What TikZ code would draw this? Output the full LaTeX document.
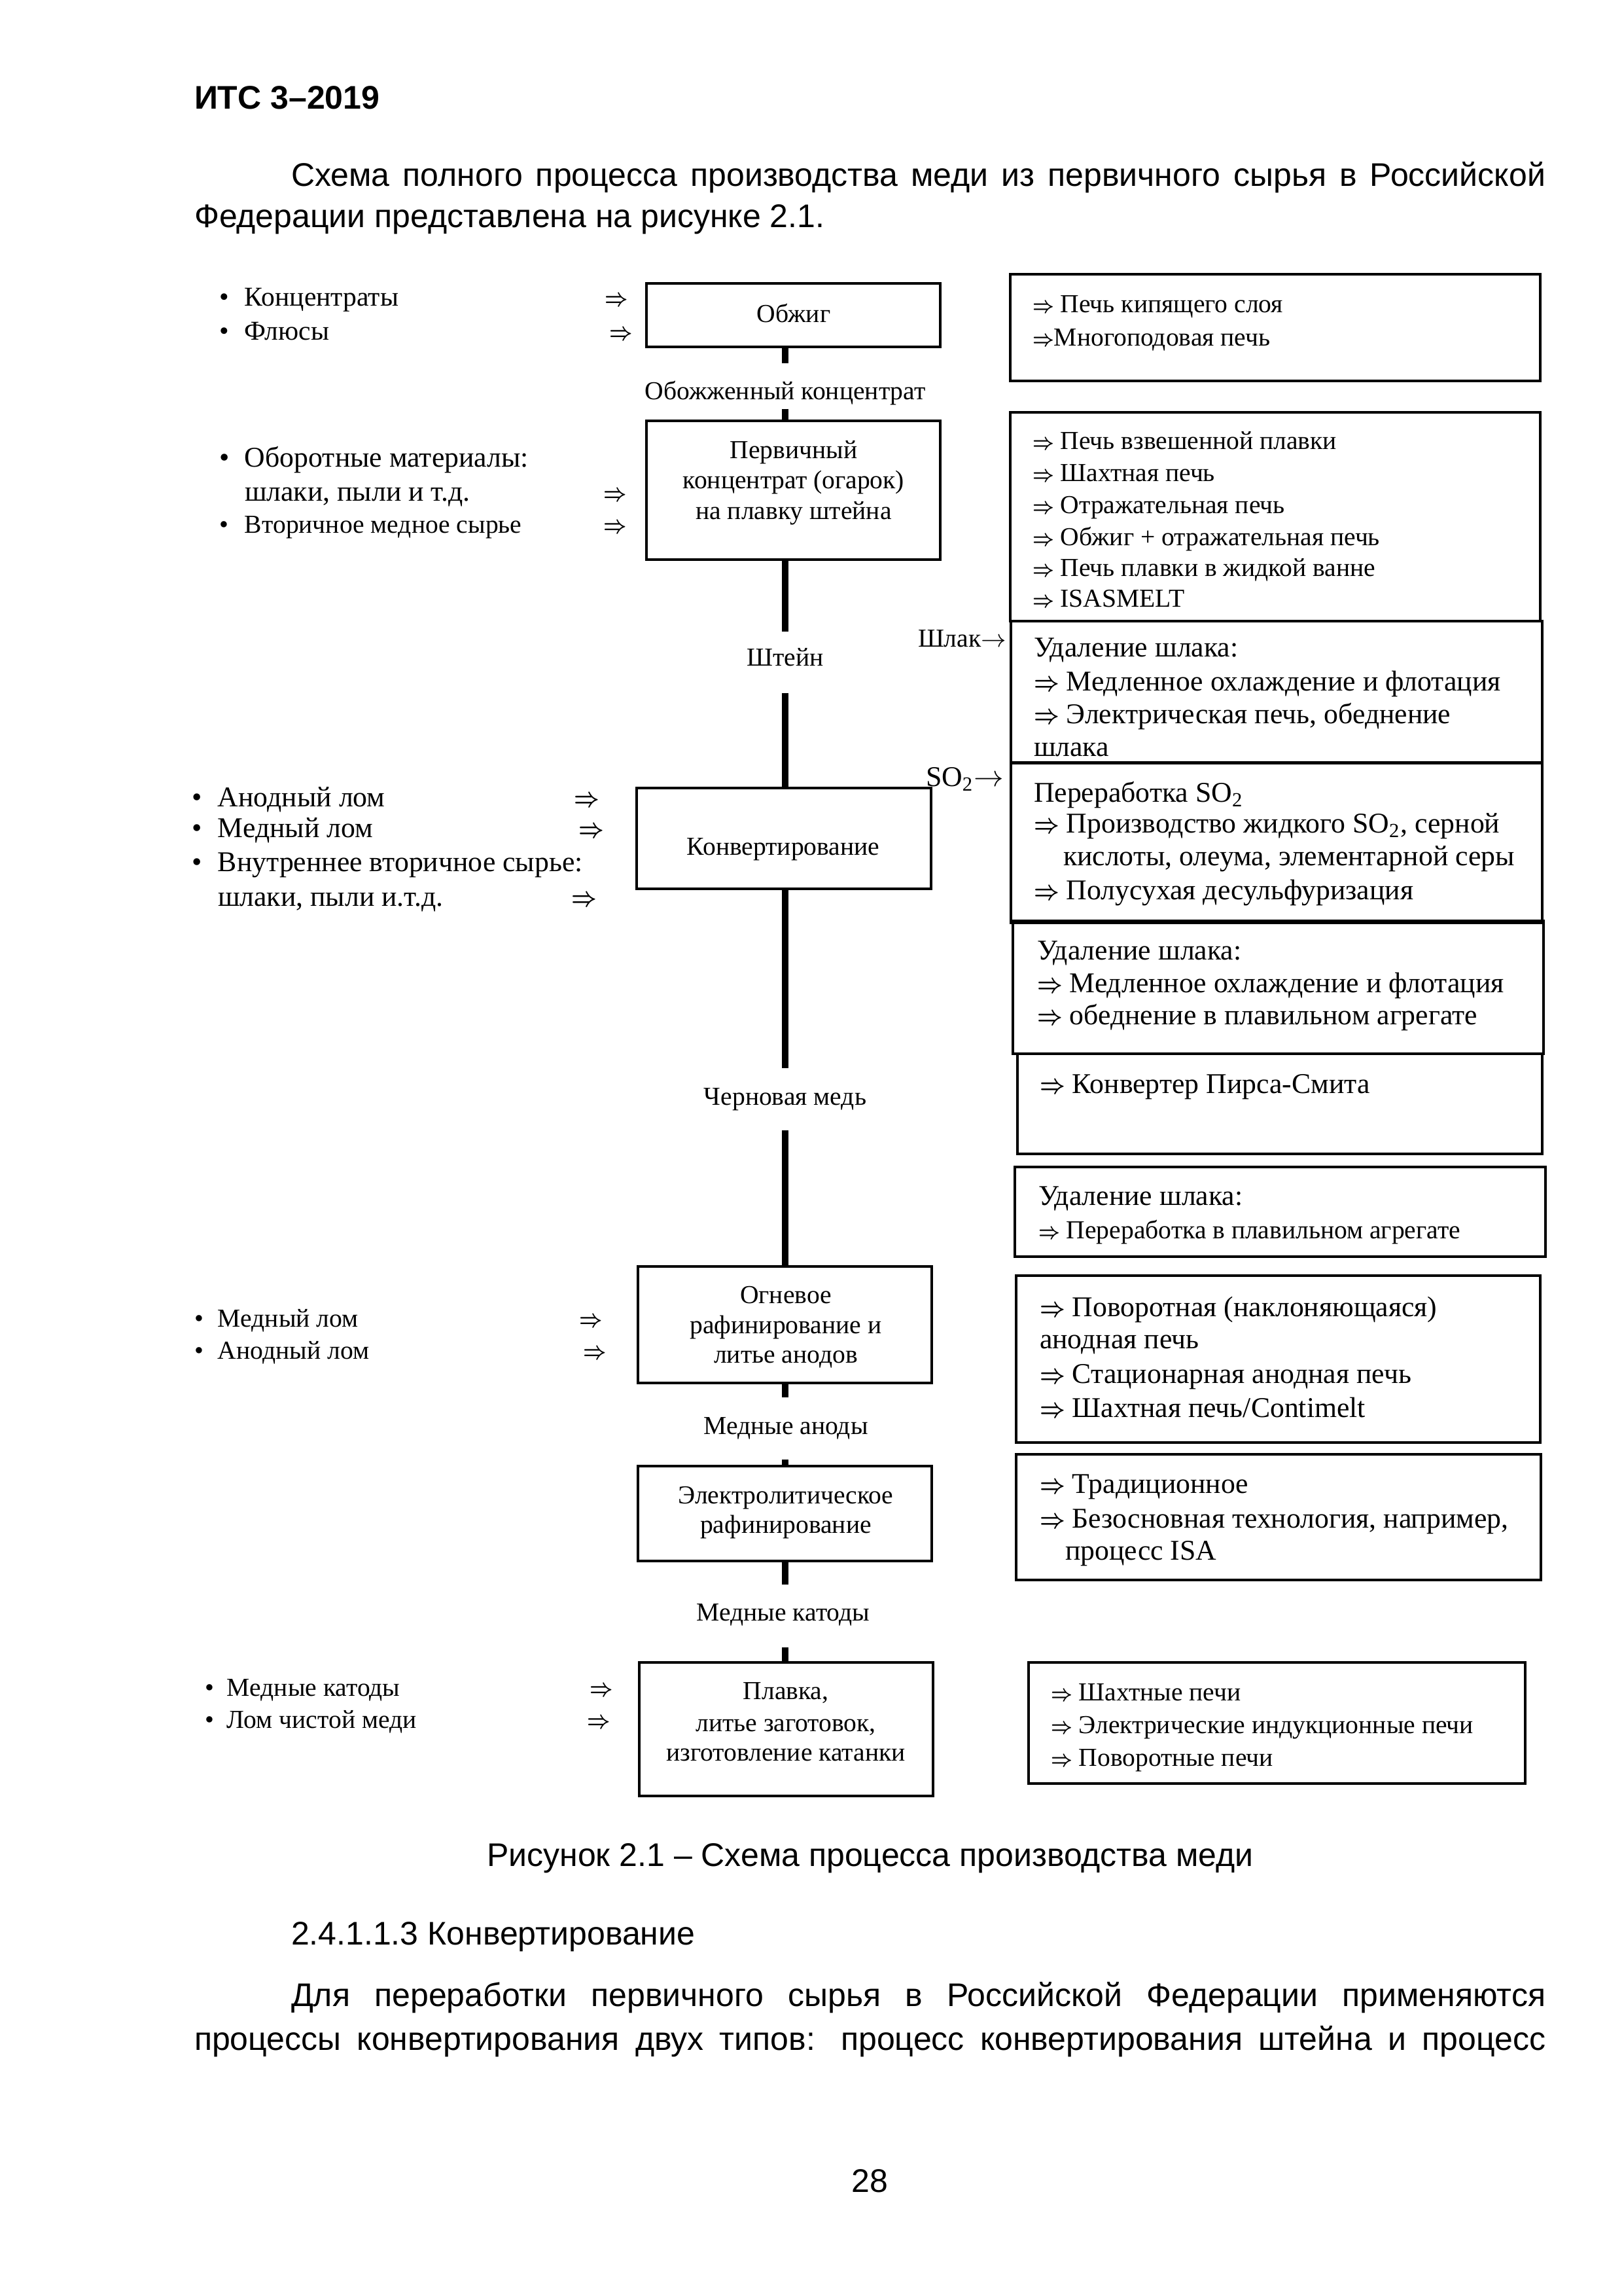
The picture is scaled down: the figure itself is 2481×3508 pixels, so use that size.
\documentclass[tikz,border=0pt]{standalone}
\usepackage{fontspec}
\setmainfont{Liberation Serif}
\setsansfont{Liberation Sans}
\usepackage{graphicx}
\newdimen\pxu \pxu=0.24pt
\newcommand\RA{\scalebox{0.74}[0.9]{\boldmath$\Rightarrow$}}
\newcommand\bl[2]{\makebox[#1\pxu][l]{\textbullet}#2}
\newcommand\mkbox[5]{\node[bx, minimum width={(#4-#2)*0.24pt}, minimum height={(#5-#3)*0.24pt}] (#1) at ({(#2+#4)/2},{(#3+#5)/2}) {};}
\tikzset{
  bx/.style={draw, line width=0.8pt, inner sep=0pt, outer sep=0pt},
  conn/.style={line width=2.2pt},
  fs/.style={inner sep=0pt, outer sep=0pt, yshift=-1pt, font=\fontsize{9.5}{11.4}\selectfont},
  fm/.style={inner sep=0pt, outer sep=0pt, yshift=-1pt, font=\fontsize{10}{12}\selectfont},
  fb/.style={inner sep=0pt, outer sep=0pt, yshift=-1pt, font=\fontsize{10.5}{12.6}\selectfont},
  body/.style={inner sep=0pt, outer sep=0pt, yshift=-1.7pt, font=\sffamily\fontsize{12}{14}\selectfont},
  lt/.style={anchor=mid west},
  ct/.style={anchor=mid},
}
\begin{document}
\begin{tikzpicture}[x=0.24pt, y=-0.24pt]
\useasboundingbox[fill=white] (0,0) rectangle (2481,3508);

% ---------- page text ----------
\node[body, lt, font=\sffamily\bfseries\fontsize{12}{14}\selectfont] (hdr) at (297,150) {ИТС 3–2019};
\node[body, lt] (p1a) at (445,268) {\makebox[1917\pxu][s]{Схема полного процесса производства меди из первичного сырья в Российской}};
\node[body, lt] (p1b) at (297,331) {Федерации представлена на рисунке 2.1.};
\node[body, ct] (cap) at (1330,2835) {Рисунок 2.1 – Схема процесса производства меди};
\node[body, lt] (sec) at (445,2955) {2.4.1.1.3 Конвертирование};
\node[body, lt] (p2a) at (445,3049) {\makebox[1917\pxu][s]{Для переработки первичного сырья в Российской Федерации применяются}};
\node[body, lt] (p2b) at (297,3116) {\makebox[2065\pxu][s]{процессы конвертирования двух типов: процесс конвертирования штейна и процесс}};
\node[body, ct] (pg) at (1329,3333) {28};

% ---------- central boxes ----------
\mkbox{obzhig}{988}{433}{1437}{530}
\mkbox{perv}{988}{643}{1437}{855}
\mkbox{konv}{973}{1204}{1423}{1358}
\mkbox{ogn}{975}{1935}{1424}{2113}
\mkbox{elec}{975}{2240}{1424}{2385}
\mkbox{plav}{977}{2540}{1426}{2744}

\node[fs, ct] (tobzhig) at (1213,479) {Обжиг};
\node[fs, ct] (tperv1) at (1213,687) {Первичный};
\node[fs, ct] (tperv2) at (1213,733) {концентрат (огарок)};
\node[fs, ct] (tperv3) at (1213,780) {на плавку штейна};
\node[fs, ct] (tkonv) at (1197,1293) {Конвертирование};
\node[fs, ct] (togn1) at (1201,1978) {Огневое};
\node[fs, ct] (togn2) at (1201,2024) {рафинирование и};
\node[fs, ct] (togn3) at (1201,2069) {литье анодов};
\node[fs, ct] (telec1) at (1201,2284) {Электролитическое};
\node[fs, ct] (telec2) at (1201,2329) {рафинирование};
\node[fs, ct] (tplav1) at (1201,2583) {Плавка,};
\node[fs, ct] (tplav2) at (1201,2632) {литье заготовок,};
\node[fs, ct] (tplav3) at (1201,2677) {изготовление катанки};

% ---------- flow labels ----------
\node[fs, ct] (lobozh) at (1200,597) {Обожженный концентрат};
\node[fs, ct] (lshtein) at (1200,1004) {Штейн};
\node[fs, ct] (lchern) at (1200,1675) {Черновая медь};
\node[fs, ct] (lanody) at (1201,2178) {Медные аноды};
\node[fs, ct] (lkatody) at (1197,2463) {Медные катоды};

% ---------- main line ----------
\coordinate (a1) at (1200,555);
\coordinate (a2) at (1200,625);
\coordinate (a3) at (1200,965);
\coordinate (a4) at (1200,1059);
\coordinate (a5) at (1200,1632);
\coordinate (a6) at (1200,1727);
\coordinate (a7) at (1200,2135);
\coordinate (a8) at (1200,2230);
\coordinate (a9) at (1200,2421);
\coordinate (a10) at (1200,2517);
\draw[conn] (obzhig.south -| a1) -- (a1);
\draw[conn] (a2) -- (perv.north -| a2);
\draw[conn] (perv.south -| a3) -- (a3);
\draw[conn] (a4) -- (konv.north -| a4);
\draw[conn] (konv.south -| a5) -- (a5);
\draw[conn] (a6) -- (ogn.north -| a6);
\draw[conn] (ogn.south -| a7) -- (a7);
\draw[conn] (a8) -- (elec.north -| a8);
\draw[conn] (elec.south -| a9) -- (a9);
\draw[conn] (a10) -- (plav.north -| a10);

% ---------- left inputs ----------
\node[fm, lt] (i1) at (335,454) {\bl{39}{Концентраты}};
\node[fm, ct] (i1r) at (942,454) {\RA};
\node[fm, lt] (i2) at (335,506) {\bl{39}{Флюсы}};
\node[fm, ct] (i2r) at (949,506) {\RA};
\node[fb, lt] (i3) at (335,700) {\bl{39}{Оборотные материалы:}};
\node[fb, lt] (i3b) at (374,752) {шлаки, пыли и т.д.};
\node[fm, ct] (i3r) at (940,752) {\RA};
\node[fs, lt] (i4) at (335,801) {\bl{39}{Вторичное медное сырье}};
\node[fm, ct] (i4r) at (940,801) {\RA};

\node[fb, lt] (k1) at (293,1219) {\bl{40}{Анодный лом}};
\node[fb, ct] (k1r) at (897,1219) {\RA};
\node[fb, lt] (k2) at (293,1266) {\bl{40}{Медный лом}};
\node[fb, ct] (k2r) at (904,1266) {\RA};
\node[fb, lt] (k3) at (293,1318) {\bl{40}{Внутреннее вторичное сырье:}};
\node[fb, lt] (k3b) at (333,1371) {шлаки, пыли и.т.д.};
\node[fb, ct] (k3r) at (893,1371) {\RA};

\node[fs, lt] (o1) at (297,2014) {\bl{36}{Медный лом}};
\node[fm, ct] (o1r) at (903,2014) {\RA};
\node[fs, lt] (o2) at (297,2063) {\bl{36}{Анодный лом}};
\node[fm, ct] (o2r) at (909,2063) {\RA};

\node[fs, lt] (m1) at (313,2578) {\bl{34}{Медные катоды}};
\node[fm, ct] (m1r) at (919,2578) {\RA};
\node[fs, lt] (m2) at (313,2627) {\bl{34}{Лом чистой меди}};
\node[fm, ct] (m2r) at (915,2627) {\RA};

% ---------- right boxes ----------
\mkbox{r1}{1544}{419}{2354}{582}
\mkbox{r2}{1544}{630}{2354}{949}
\mkbox{r3}{1545}{949}{2357}{1166}
\mkbox{r4}{1545}{1165}{2357}{1410}
\mkbox{r5}{1548}{1407}{2359}{1610}
\mkbox{r6}{1555}{1610}{2357}{1763}
\mkbox{r7}{1551}{1783}{2362}{1920}
\mkbox{r8}{1553}{1949}{2354}{2204}
\mkbox{r9}{1553}{2222}{2355}{2414}
\mkbox{r10}{1572}{2540}{2331}{2725}

\node[fs, lt] (r1a) at (1578,464) {\RA\ Печь кипящего слоя};
\node[fs, lt] (r1b) at (1578,515) {\RA Многоподовая печь};

\node[fs, lt] (r2a) at (1578,673) {\RA\ Печь взвешенной плавки};
\node[fs, lt] (r2b) at (1578,722) {\RA\ Шахтная печь};
\node[fs, lt] (r2c) at (1578,771) {\RA\ Отражательная печь};
\node[fs, lt] (r2d) at (1578,820) {\RA\ Обжиг + отражательная печь};
\node[fs, lt] (r2e) at (1578,867) {\RA\ Печь плавки в жидкой ванне};
\node[fs, lt] (r2f) at (1578,914) {\RA\ ISASMELT};

\node[fb, lt] (r3a) at (1580,990) {Удаление шлака:};
\node[fb, lt] (r3b) at (1580,1042) {\RA\ Медленное охлаждение и флотация};
\node[fb, lt] (r3c) at (1580,1092) {\RA\ Электрическая печь, обеднение};
\node[fb, lt] (r3d) at (1580,1142) {шлака};

\node[fb, lt, text depth=0pt] (r4a) at (1580,1212) {Переработка SO\textsubscript{2}};
\node[fb, lt] (r4b) at (1580,1259) {\RA\ Производство жидкого SO\textsubscript{2}, серной};
\node[fb, lt] (r4c) at (1625,1309) {кислоты, олеума, элементарной серы};
\node[fb, lt] (r4d) at (1580,1361) {\RA\ Полусухая десульфуризация};

\node[fb, lt] (r5a) at (1585,1453) {Удаление шлака:};
\node[fb, lt] (r5b) at (1585,1503) {\RA\ Медленное охлаждение и флотация};
\node[fb, lt] (r5c) at (1585,1552) {\RA\ обеднение в плавильном агрегате};

\node[fb, lt] (r6a) at (1589,1657) {\RA\ Конвертер Пирса-Смита};

\node[fb, lt] (r7a) at (1587,1828) {Удаление шлака:};
\node[fs, lt] (r7b) at (1587,1879) {\RA\ Переработка в плавильном агрегате};

\node[fb, lt] (r8a) at (1589,1998) {\RA\ Поворотная (наклоняющаяся)};
\node[fb, lt] (r8b) at (1589,2047) {анодная печь};
\node[fb, lt] (r8c) at (1589,2100) {\RA\ Стационарная анодная печь};
\node[fb, lt] (r8d) at (1589,2152) {\RA\ Шахтная печь/Contimelt};

\node[fb, lt] (r9a) at (1589,2268) {\RA\ Традиционное};
\node[fb, lt] (r9b) at (1589,2321) {\RA\ Безосновная технология, например,};
\node[fb, lt] (r9c) at (1628,2370) {процесс ISA};

\node[fs, lt] (r10a) at (1606,2585) {\RA\ Шахтные печи};
\node[fs, lt] (r10b) at (1606,2635) {\RA\ Электрические индукционные печи};
\node[fs, lt] (r10c) at (1606,2685) {\RA\ Поворотные печи};

% ---------- side outputs ----------
\node[fs, lt] (shlak) at (1403,975) {Шлак$\rightarrow$};
\node[fb, lt] (so2) at (1415,1188) {SO\textsubscript{2}$\rightarrow$};
\end{tikzpicture}
\end{document}
